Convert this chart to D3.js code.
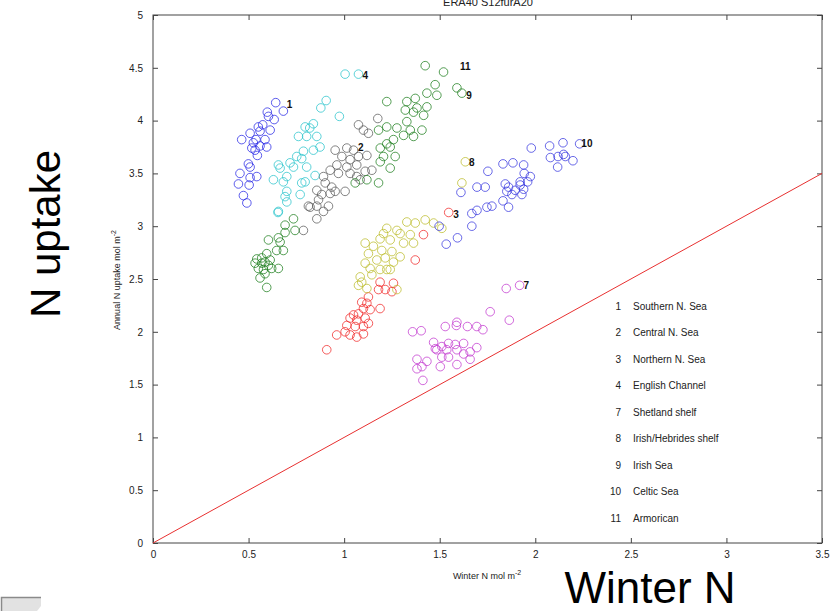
<!DOCTYPE html>
<html>
<head>
<meta charset="utf-8">
<script src="https://cdn.jsdelivr.net/npm/d3@7"></script>
<style>
  body { margin: 0; background: white; }
  text { font-family: "Liberation Sans", Arial, Helvetica, sans-serif; }
</style>
</head>
<body>
<svg id="svgContainer"></svg>
<script>
// chart size
const svgWidth = 835;
const svgHeight = 611;
const svg = d3.select("#svgContainer")
  .attr("width", svgWidth)
  .attr("height", svgHeight);

// region ids, names and marker colours
const regionIds = ["1", "2", "3", "4", "7", "8", "9", "10", "11"];
const regionNames = ["Southern N. Sea", "Central N. Sea", "Northern N. Sea", "English Channel",
  "Shetland shelf", "Irish/Hebrides shelf", "Irish Sea", "Celtic Sea", "Armorican"];

// [winter N, annual N uptake] per region
const southernNSea = [[0.642,4.17],[0.682,4.09],[0.598,4.08],[0.634,4.01],[0.604,4.04],[0.574,3.96],[0.551,3.94],
  [0.508,3.88],[0.464,3.82],[0.560,3.90],[0.539,3.82],[0.586,3.82],[0.517,3.74],[0.534,3.72],[0.595,3.75],
  [0.546,3.67],[0.499,3.59],[0.508,3.56],[0.455,3.50],[0.508,3.46],[0.543,3.47],[0.447,3.40],[0.503,3.39],
  [0.473,3.29],[0.491,3.22],[0.525,3.79],[0.613,3.91],[0.560,3.76]];
const centralNSea = [[1.176,4.02],[1.075,3.96],[1.101,3.91],[1.127,3.88],[1.049,3.72],[1.014,3.74],[0.953,3.72],
  [0.988,3.66],[1.031,3.63],[1.075,3.66],[1.119,3.67],[0.962,3.58],[1.014,3.56],[1.066,3.58],[0.927,3.53],
  [0.970,3.50],[1.031,3.50],[1.066,3.47],[1.110,3.52],[1.145,3.53],[0.892,3.47],[0.901,3.41],[0.935,3.37],
  [0.953,3.33],[1.005,3.33],[0.857,3.34],[0.883,3.30],[0.866,3.25],[0.813,3.19],[0.857,3.19],[0.892,3.14],
  [0.918,3.19],[1.084,3.44],[0.927,3.31],[0.822,3.18],[0.857,3.07],[0.787,2.96]];
const northernNSea = [[1.547,3.13],[1.415,2.92],[1.372,2.68],[1.258,2.46],[1.215,2.40],[1.250,2.38],[1.188,2.47],
  [1.180,2.40],[1.127,2.33],[1.092,2.28],[1.119,2.27],[1.101,2.22],[1.136,2.21],[1.188,2.22],[1.075,2.17],
  [1.049,2.16],[1.031,2.13],[1.066,2.11],[1.110,2.13],[1.014,2.06],[1.058,2.05],[1.101,2.05],[1.127,2.08],
  [1.005,2.00],[1.031,1.97],[1.066,1.95],[1.101,1.98],[0.961,1.97],[0.909,1.83]];
const englishChannel = [[1.005,4.44],[1.075,4.44],[0.906,4.19],[0.878,4.12],[0.975,4.04],[0.839,3.97],[0.796,3.94],
  [0.820,3.93],[0.761,3.85],[0.804,3.85],[0.857,3.85],[0.874,3.75],[0.839,3.72],[0.787,3.71],[0.752,3.66],
  [0.778,3.64],[0.717,3.60],[0.656,3.58],[0.665,3.55],[0.735,3.56],[0.804,3.56],[0.700,3.47],[0.630,3.44],
  [0.682,3.42],[0.848,3.48],[0.778,3.41],[0.796,3.42],[0.700,3.33],[0.691,3.28],[0.700,3.23],[0.656,3.14],
  [0.770,3.30],[0.654,3.13]];
const shetlandShelf = [[1.918,2.44],[1.848,2.41],[1.764,2.19],[1.864,2.11],[1.358,2.00],[1.403,2.01],[1.529,2.05],
  [1.590,2.09],[1.587,2.06],[1.645,2.05],[1.694,2.05],[1.726,2.02],[1.468,1.90],[1.511,1.86],[1.546,1.89],
  [1.581,1.88],[1.625,1.89],[1.694,1.85],[1.485,1.83],[1.537,1.83],[1.590,1.83],[1.659,1.81],[1.511,1.76],
  [1.546,1.76],[1.625,1.79],[1.381,1.74],[1.433,1.72],[1.381,1.65],[1.407,1.67],[1.503,1.67],[1.590,1.69],
  [1.659,1.74],[1.412,1.54],[1.477,1.84]];
const hebridesShelf = [[1.634,3.61],[1.616,3.41],[1.328,3.04],[1.372,3.03],[1.424,3.06],[1.468,3.03],[1.511,2.98],
  [1.276,2.96],[1.293,2.93],[1.223,2.98],[1.206,2.93],[1.188,2.88],[1.346,2.92],[1.241,2.87],[1.311,2.84],
  [1.363,2.84],[1.110,2.84],[1.153,2.81],[1.197,2.77],[1.250,2.76],[1.127,2.74],[1.171,2.68],[1.215,2.70],
  [1.258,2.66],[1.293,2.71],[1.110,2.65],[1.223,2.59],[1.136,2.60],[1.188,2.59],[1.241,2.59],[1.084,2.52],
  [1.145,2.54],[1.075,2.44],[1.119,2.41],[1.276,2.40],[1.092,2.47]];
const irishSea = [[1.590,4.31],[1.616,4.26],[0.735,3.07],[0.691,3.01],[0.743,2.96],[0.691,2.94],[0.656,2.89],
  [0.604,2.87],[0.665,2.85],[0.682,2.77],[0.647,2.77],[0.595,2.74],[0.569,2.70],[0.586,2.66],[0.613,2.68],
  [0.534,2.65],[0.551,2.60],[0.578,2.59],[0.621,2.60],[0.656,2.60],[0.560,2.51],[0.586,2.55],[0.595,2.42],
  [0.569,2.65],[0.604,2.63],[0.543,2.69]];
const celticSea = [[2.232,3.78],[2.145,3.79],[2.075,3.76],[1.979,3.74],[2.079,3.65],[2.119,3.66],[2.157,3.66],
  [2.197,3.62],[2.117,3.56],[2.148,3.68],[1.831,3.59],[1.883,3.60],[1.939,3.58],[1.752,3.52],[1.942,3.50],
  [1.974,3.47],[1.960,3.42],[1.921,3.42],[1.843,3.40],[1.860,3.37],[1.895,3.34],[1.939,3.35],[1.878,3.30],
  [1.930,3.30],[1.695,3.37],[1.738,3.37],[1.611,3.32],[1.831,3.24],[1.860,3.18],[1.773,3.19],[1.747,3.18],
  [1.695,3.15],[1.668,3.12],[1.668,3.00],[1.593,2.89],[1.534,2.83],[1.497,3.00],[1.921,3.39],[1.851,3.33]];
const armorican = [[1.424,4.52],[1.520,4.46],[1.476,4.34],[1.433,4.26],[1.485,4.24],[1.372,4.21],[1.328,4.18],
  [1.223,4.18],[1.320,4.10],[1.381,4.12],[1.433,4.13],[1.416,4.05],[1.363,4.08],[1.328,3.99],[1.276,3.93],
  [1.223,3.94],[1.180,3.91],[1.346,3.91],[1.407,3.91],[1.311,3.86],[1.363,3.85],[1.258,3.82],[1.223,3.78],
  [1.189,3.74],[1.241,3.75],[1.206,3.66],[1.267,3.66],[1.189,3.61],[1.241,3.55],[1.119,3.44],[1.180,3.41],
  [1.058,3.41]];

// where the region number is written next to each cloud
const labelPositions = [[0.714,4.15],[1.087,3.75],[1.586,3.11],[1.11,4.43],[1.953,2.44],[1.668,3.60],
  [1.654,4.24],[2.27,3.78],[1.634,4.51]];

// ticks
const xTicks = [0, 0.5, 1, 1.5, 2, 2.5, 3, 3.5];
const xTickLabels = ["0", "0.5", "1", "1.5", "2", "2.5", "3", "3.5"];
const yTicks = [0, 0.5, 1, 1.5, 2, 2.5, 3, 3.5, 4, 4.5, 5];
const yTickLabels = ["0", "0.5", "1", "1.5", "2", "2.5", "3", "3.5", "4", "4.5", "5"];

// one-to-one line
const oneToOne = [[0, 0], [3.5, 3.5]];

const regionData = [southernNSea, centralNSea, northernNSea, englishChannel, shetlandShelf,
  hebridesShelf, irishSea, celticSea, armorican];
const regionColors = ["#2a2ae6", "#5c5c5c", "#f02a2a", "#2ac4cc", "#c23ad0", "#bcbc2c", "#1f801f", "#3a3ae0", "#1f801f"];

// plot box
const plotLeft = 153, plotRight = 822, plotTop = 15, plotBottom = 543;
const x = d3.scaleLinear().domain([0, 3.5]).range([plotLeft, plotRight]);
const y = d3.scaleLinear().domain([0, 5]).range([plotBottom, plotTop]);

const axisColor = "#444";
const tickFont = 10;

// title, mostly cut off by the top edge
svg.append("text")
  .attr("x", 488)
  .attr("y", 6)
  .attr("text-anchor", "middle")
  .attr("font-size", 11)
  .attr("fill", "#222")
  .text("ERA40 S12furA20");

// axes box
svg.append("rect")
  .attr("x", plotLeft)
  .attr("y", plotTop)
  .attr("width", plotRight - plotLeft)
  .attr("height", plotBottom - plotTop)
  .attr("fill", "none")
  .attr("stroke", axisColor)
  .attr("stroke-width", 1);

// bottom axis (ticks point inward)
const xAxis = svg.append("g")
  .attr("transform", `translate(0,${plotBottom})`)
  .call(d3.axisBottom(x).tickValues(xTicks).tickSizeInner(-5).tickSizeOuter(0).tickPadding(8)
    .tickFormat((d, i) => xTickLabels[i]));
const topAxis = svg.append("g")
  .attr("transform", `translate(0,${plotTop})`)
  .call(d3.axisTop(x).tickValues(xTicks).tickSizeInner(-5).tickSizeOuter(0).tickFormat(""));
const yAxis = svg.append("g")
  .attr("transform", `translate(${plotLeft},0)`)
  .call(d3.axisLeft(y).tickValues(yTicks).tickSizeInner(-5).tickSizeOuter(0).tickPadding(10)
    .tickFormat((d, i) => yTickLabels[i]));
const rightAxis = svg.append("g")
  .attr("transform", `translate(${plotRight},0)`)
  .call(d3.axisRight(y).tickValues(yTicks).tickSizeInner(-5).tickSizeOuter(0).tickFormat(""));

[xAxis, topAxis, yAxis, rightAxis].forEach(g => {
  g.select(".domain").remove();
  g.selectAll(".tick line").attr("stroke", axisColor);
  g.selectAll(".tick text")
    .attr("font-size", tickFont)
    .attr("fill", "#222")
    .attr("font-family", "Liberation Sans, Arial, sans-serif");
});

// axis titles
const xTitle = svg.append("text")
  .attr("x", 487)
  .attr("y", 579)
  .attr("text-anchor", "middle")
  .attr("font-size", 9)
  .attr("fill", "#222");
xTitle.append("tspan").text("Winter N mol m");
xTitle.append("tspan").attr("dy", -4).attr("font-size", 7).text("-2");

const yTitle = svg.append("text")
  .attr("transform", "translate(120,280) rotate(-90)")
  .attr("text-anchor", "middle")
  .attr("font-size", 9)
  .attr("fill", "#222");
yTitle.append("tspan").text("Annual N uptake mol m");
yTitle.append("tspan").attr("dy", -4).attr("font-size", 7).text("-2");

// one-to-one line
svg.append("path")
  .datum(oneToOne)
  .attr("d", d3.line().x(d => x(d[0])).y(d => y(d[1])))
  .attr("stroke", "#e83030")
  .attr("stroke-width", 1)
  .attr("fill", "none");

// scatter circles
const groups = svg.selectAll(".region")
  .data(regionData)
  .enter()
  .append("g")
  .attr("class", "region");

groups.selectAll("circle")
  .data((d, i) => d.map(p => ({ p: p, c: regionColors[i] })))
  .enter()
  .append("circle")
  .attr("cx", d => x(d.p[0]))
  .attr("cy", d => y(d.p[1]))
  .attr("r", 4.3)
  .attr("fill", "none")
  .attr("stroke", d => d.c)
  .attr("stroke-width", 0.9)
  .attr("stroke-opacity", 0.85);

// region numbers next to the clouds
svg.selectAll(".regionLabel")
  .data(labelPositions)
  .enter()
  .append("text")
  .attr("class", "regionLabel")
  .attr("x", d => x(d[0]))
  .attr("y", d => y(d[1]))
  .attr("dy", "0.35em")
  .attr("text-anchor", "middle")
  .attr("font-size", 10)
  .attr("font-weight", "bold")
  .attr("fill", "#111")
  .text((d, i) => regionIds[i]);

// legend list
const legend = svg.selectAll(".legendRow")
  .data(regionIds)
  .enter()
  .append("g")
  .attr("class", "legendRow")
  .attr("transform", (d, i) => `translate(0, ${306 + i * 26.5})`);

legend.append("text")
  .attr("x", 621)
  .attr("dy", "0.35em")
  .attr("text-anchor", "end")
  .attr("font-size", 10)
  .attr("fill", "#222")
  .text(d => d);

legend.append("text")
  .attr("x", 633)
  .attr("dy", "0.35em")
  .attr("font-size", 10)
  .attr("fill", "#222")
  .text((d, i) => regionNames[i]);

// big slide labels
svg.append("text")
  .attr("transform", "translate(60,234) rotate(-90)")
  .attr("text-anchor", "middle")
  .attr("font-size", 42)
  .attr("fill", "#000")
  .text("N uptake");

svg.append("text")
  .attr("x", 650)
  .attr("y", 603)
  .attr("text-anchor", "middle")
  .attr("font-size", 44)
  .attr("fill", "#000")
  .text("Winter N");

// grey corner piece at bottom left
svg.append("path")
  .attr("d", "M1,611 V597 H41 V606 L37,611 Z")
  .attr("fill", "#e2e2e2")
  .attr("stroke", "none");
svg.append("path")
  .attr("d", "M1.5,611 V597.5 H41")
  .attr("fill", "none")
  .attr("stroke", "#8a8a8a")
  .attr("stroke-width", 1.5);
</script>
</body>
</html>
